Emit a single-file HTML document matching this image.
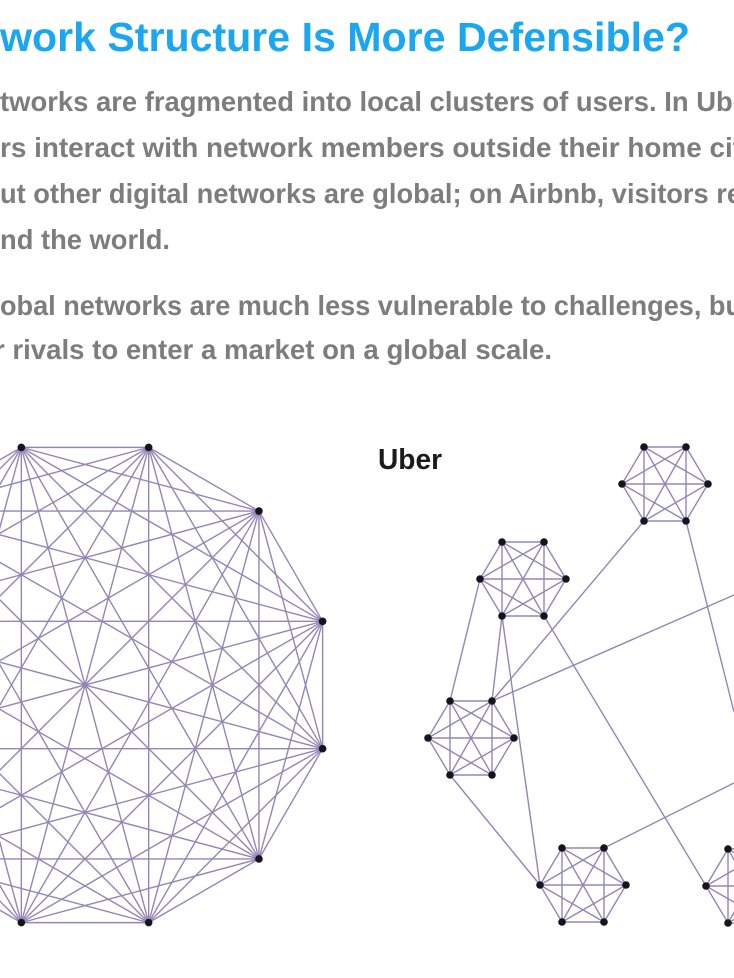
<!DOCTYPE html>
<html><head><meta charset="utf-8"><style>
html,body{margin:0;padding:0;background:#fff;width:734px;height:978px;overflow:hidden}
svg{display:block}
.h{font-family:"Liberation Sans",sans-serif;font-weight:bold;fill:#1aa6f0}
.b{font-family:"Liberation Sans",sans-serif;font-weight:bold;fill:#7d7d7d}
</style></head><body>
<svg id="s" width="734" height="978" viewBox="0 0 734 978" xmlns="http://www.w3.org/2000/svg">
<text class="h" x="0" y="51" font-size="41" textLength="690" lengthAdjust="spacingAndGlyphs">work Structure Is More Defensible?</text>
<text class="b" x="0" y="111" font-size="28" textLength="748" lengthAdjust="spacingAndGlyphs">tworks are fragmented into local clusters of users. In Ube</text>
<text class="b" x="0" y="157" font-size="28" textLength="742" lengthAdjust="spacingAndGlyphs">rs interact with network members outside their home cit</text>
<text class="b" x="0" y="203" font-size="28" textLength="742" lengthAdjust="spacingAndGlyphs">ut other digital networks are global; on Airbnb, visitors re</text>
<text class="b" x="0" y="249" font-size="28" textLength="170" lengthAdjust="spacingAndGlyphs">nd the world.</text>
<text class="b" x="0" y="315" font-size="28" textLength="742" lengthAdjust="spacingAndGlyphs">obal networks are much less vulnerable to challenges, bu</text>
<text class="b" x="-6" y="359" font-size="28" textLength="558" lengthAdjust="spacingAndGlyphs">r rivals to enter a market on a global scale.</text>
<text x="378" y="469" font-family="Liberation Sans,sans-serif" font-weight="bold" font-size="29" fill="#1b1b1b" textLength="64" lengthAdjust="spacingAndGlyphs">Uber</text>
<g id="L" stroke="#9585b5" stroke-width="1.4" fill="none"></g>
<g id="D" fill="#16151d"></g>
</svg>
<script>
var L=document.getElementById('L'),D=document.getElementById('D'),NS='http://www.w3.org/2000/svg';
function ln(a,b){var e=document.createElementNS(NS,'line');e.setAttribute('x1',a[0]);e.setAttribute('y1',a[1]);e.setAttribute('x2',b[0]);e.setAttribute('y2',b[1]);L.appendChild(e);}
function dot(p){var e=document.createElementNS(NS,'circle');e.setAttribute('cx',p[0]);e.setAttribute('cy',p[1]);e.setAttribute('r',3.8);D.appendChild(e);}
var cx=85,cy=685,r=246,P=[];
for(var k=0;k<12;k++){var a=(15+30*k)*Math.PI/180;P.push([cx+r*Math.cos(a),cy+r*Math.sin(a)]);}
for(var i=0;i<12;i++)for(var j=i+1;j<12;j++)ln(P[i],P[j]);
P.forEach(dot);
function hex(c){var x=c[0],y=c[1];return [[x-21,y-37],[x+21,y-37],[x+43,y],[x+21,y+37],[x-21,y+37],[x-43,y]];}
var C=[hex([665,484]),hex([523,579]),hex([471,738]),hex([583,885]),hex([749,886])];
C.forEach(function(h){for(var i=0;i<6;i++)for(var j=i+1;j<6;j++)ln(h[i],h[j]);});
ln(C[1][5],C[2][0]);ln(C[1][4],C[2][1]);ln(C[1][4],C[3][5]);ln(C[1][3],C[4][5]);
ln(C[0][4],C[2][1]);ln(C[0][3],[734,712]);ln(C[2][1],[734,595]);ln(C[2][4],C[3][5]);ln(C[3][1],[734,783]);
C.forEach(function(h){h.forEach(dot);});
</script>
</body></html>
